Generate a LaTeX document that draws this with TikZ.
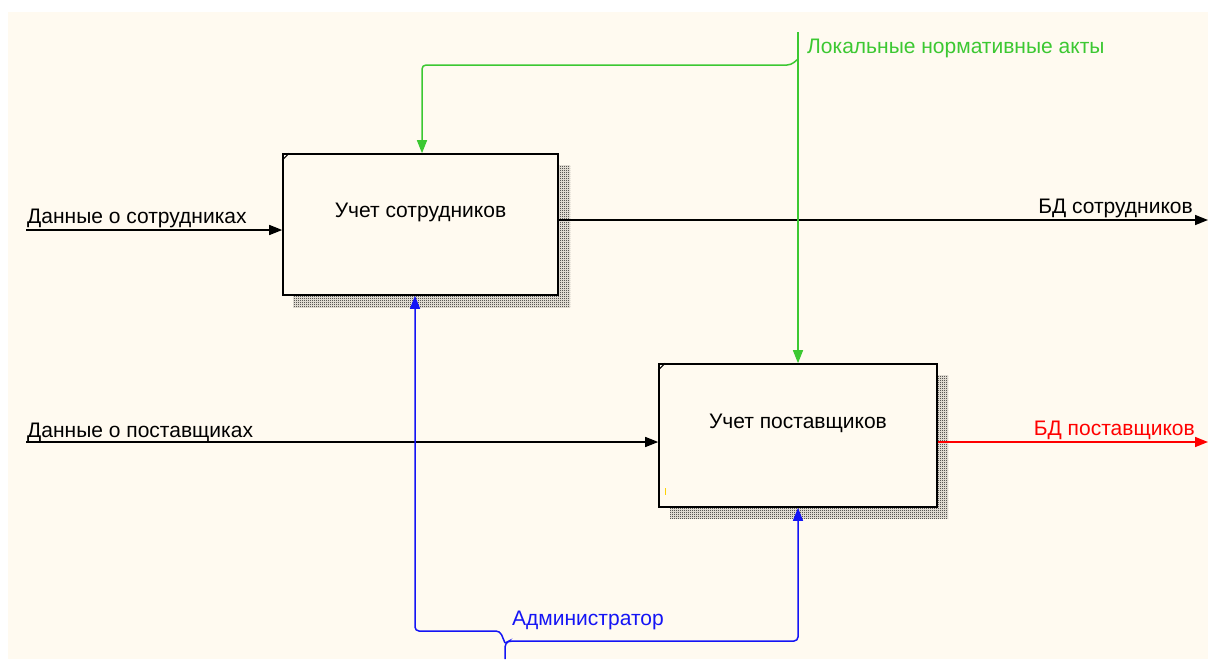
\documentclass[tikz,border=0pt]{standalone}
\usepackage{fontspec}
\setmainfont{Liberation Sans}
\usepackage{tikz}
\usetikzlibrary{arrows,arrows.meta,positioning,calc,patterns}
\definecolor{cream}{RGB}{255,250,240}
\definecolor{ctrlgreen}{RGB}{60,200,50}
\definecolor{mechblue}{RGB}{20,20,245}
\pgfdeclarepatternformonly{checker}{\pgfpointorigin}{\pgfpoint{2pt}{2pt}}{\pgfpoint{2pt}{2pt}}{%
  \pgfpathrectangle{\pgfpointorigin}{\pgfpoint{1pt}{1pt}}%
  \pgfpathrectangle{\pgfpoint{1pt}{1pt}}{\pgfpoint{1pt}{1pt}}%
  \pgfusepath{fill}}
\tikzstyle{func}=[draw,line width=1.6pt,fill=cream,rectangle,inner sep=0pt,text height=15pt,text depth=30pt,font=\fontsize{21}{25}\selectfont]
\tikzstyle{shade}=[pattern=checker,pattern color=black]
\tikzstyle{flow}=[line width=1.5pt,-{Triangle[length=13pt,width=10pt]}]
\tikzstyle{lbl}=[inner sep=0pt,font=\fontsize{21}{25}\selectfont]

\begin{document}
\begin{tikzpicture}[x=1pt,y=-1pt]
\useasboundingbox (0,0) rectangle (1208,659);
\fill[white] (0,0) rectangle (1208,659);
\fill[cream] (8,12) rectangle (1208,659);
% shadows
\fill[shade] (293,165) rectangle (570,307);
\fill[shade] (670,375) rectangle (948,518);
% functions
\node [func,minimum width=275pt,minimum height=141pt] (b1) at (420.5,224.5) {Учет сотрудников};
\node [func,minimum width=278pt,minimum height=143pt] (b2) at (798,435.5) {Учет поставщиков};
\draw[line width=1pt] (b1.north west) ++(0,7) -- ++(7,-7);
\draw[line width=1pt] (b2.north west) ++(0,7) -- ++(7,-7);
\fill[yellow!70!orange] (665,488) rectangle (666,495);
% inputs
\coordinate (in1) at (26,230);
\coordinate (in2) at (26,442);
\draw[flow] (in1) -- (in1 -| b1.west);
\draw[flow] (in2) -- (in2 -| b2.west);
\node [lbl,anchor=base west] (tin1) at (27,223) {Данные о сотрудниках};
\node [lbl,anchor=base west] (tin2) at (27,437) {Данные о поставщиках};
% outputs
\coordinate (out1) at (1208,220);
\coordinate (out2) at (1208,442);
\draw[flow] (b1.east |- out1) -- (out1);
\draw[flow,red] (b2.east |- out2) -- (out2);
\node [lbl,anchor=base east] (tout1) at (1193,213) {БД сотрудников};
\node [lbl,anchor=base east,text=red] (tout2) at (1195,435) {БД поставщиков};
% control
\coordinate (ctl) at (798,32);
\coordinate (g1) at (798,59);
\coordinate (g2) at (422,65);
\draw[flow,ctrlgreen] (ctl) -- (ctl |- b2.north);
\draw[flow,ctrlgreen,rounded corners=4pt] (g1) -- (791,65) -- (g2) -- (g2 |- b1.north);
\node [lbl,anchor=base west,text=ctrlgreen] (tctl) at (807,53) {Локальные нормативные акты};
% mechanism
\coordinate (mech) at (505,659);
\coordinate (m1) at (505,643);
\coordinate (m2) at (415,631);
\draw[flow,mechblue,rounded corners=4pt] (mech) -- (m1) -- (509,641) -- (798,641) -- (798,641 |- b2.south);
\draw[flow,mechblue,rounded corners=4pt] (m1) -- (500,631) -- (m2) -- (m2 |- b1.south);
\node [lbl,anchor=base west,text=mechblue] (tmech) at (512,625) {Администратор};
\end{tikzpicture}
\end{document}
